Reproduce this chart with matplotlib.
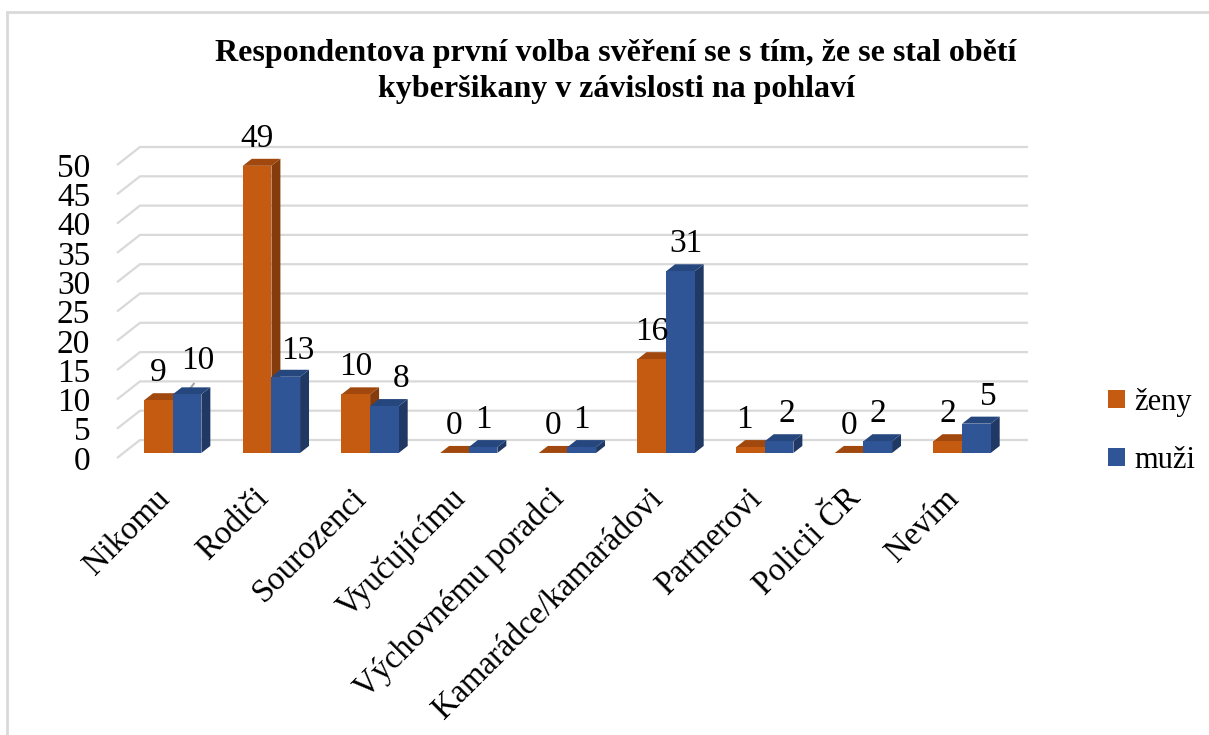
import matplotlib
matplotlib.use("Agg")
import matplotlib.pyplot as plt
from matplotlib.patches import Polygon, Patch, Rectangle

# ---------------- data ----------------
categories = ["Nikomu", "Rodiči", "Sourozenci", "Vyučujícímu", "Výchovnému poradci",
              "Kamarádce/kamarádovi", "Partnerovi", "Policii ČR", "Nevím"]
zeny = [9, 49, 10, 0, 0, 16, 1, 0, 2]
muzi = [10, 13, 8, 1, 1, 31, 2, 2, 5]
series_names = ["ženy", "muži"]
yticks = [0, 5, 10, 15, 20, 25, 30, 35, 40, 45, 50]
title_lines = ["Respondentova první volba svěření se s tím, že se stal obětí",
               "kyberšikany v závislosti na pohlaví"]

# ---------------- style ----------------
FONT = "Liberation Serif"
W_PX, H_PX = 1209, 735
front_cols = ["#C55A11", "#2F5597"]
top_cols = ["#A0480D", "#26467E"]
side_cols = ["#843C0C", "#203864"]
grid_col = "#D9D9D9"

fig = plt.figure(figsize=(W_PX / 100, H_PX / 100), dpi=100)

# axes: x = category index, y = value (front plane)
x0_px, x1_px = 117, 1005
y0_px = 458
ppu = 5.86
ytop = 54
ax = fig.add_axes([x0_px / W_PX, (H_PX - y0_px) / H_PX, (x1_px - x0_px) / W_PX, ytop * ppu / H_PX])
ax.set_xlim(-0.5, len(categories) - 0.5)
ax.set_ylim(0, ytop)
ax.axis("off")

cat_px = (x1_px - x0_px) / len(categories)
DX = 23 / cat_px      # full floor depth in x (data units)
DY = 18 / ppu         # full floor depth in y (data units)
f0 = 0.28             # depth fraction of bar front face
bd = 0.39             # bar depth fraction
W = 0.29              # bar width

# gridlines (side wall diagonals + back wall)
xl, xr = -0.5, len(categories) - 0.5
for v in yticks:
    ax.plot([xl, xl + DX, xr + DX], [v, v + DY, v + DY], color=grid_col, lw=1.6,
            clip_on=False, zorder=1, solid_capstyle="butt")
    ax.text(xl - 0.27, v - 0.6, str(v), ha="right", va="center", fontsize=24, family=FONT,
            color="black")

# bars
ddx, ddy = bd * DX, bd * DY
for i in range(len(categories)):
    for s, vals in enumerate([zeny, muzi]):
        v = vals[i]
        bx = i + (s - 1) * W + f0 * DX
        by = f0 * DY
        z = 3 + s
        front = Rectangle((bx, by), W, v, facecolor=front_cols[s], edgecolor="none", zorder=z)
        top = Polygon([(bx, by + v), (bx + W, by + v), (bx + W + ddx, by + v + ddy),
                       (bx + ddx, by + v + ddy)], closed=True, facecolor=top_cols[s],
                      edgecolor="none", zorder=z)
        side = Polygon([(bx + W, by), (bx + W + ddx, by + ddy), (bx + W + ddx, by + v + ddy),
                        (bx + W, by + v)], closed=True, facecolor=side_cols[s],
                       edgecolor="none", zorder=z)
        for p in (side, top, front):
            p.set_clip_on(False)
            ax.add_patch(p)

# data labels (pixel nudges for labels that Excel moved)
nudge = {(0, 1): (11, 6), (1, 1): (12, -1), (2, 1): (17, 0), (5, 1): (6, 0),
         (6, 0): (-6, 0), (6, 1): (8, 0), (8, 1): (12, 0)}
for i in range(len(categories)):
    for s, vals in enumerate([zeny, muzi]):
        v = vals[i]
        bx = i + (s - 1) * W + f0 * DX
        cx = bx + W / 2
        cy = f0 * DY + v
        ndx, ndy = nudge.get((i, s), (0, 0))
        ax.annotate(str(v), xy=(cx, cy), xytext=(ndx, 19 + ndy), textcoords="offset pixels",
                    ha="center", va="baseline", fontsize=24, family=FONT, zorder=10,
                    annotation_clip=False)
# leader line for moved label
ax.annotate("", xy=(0 + f0 * DX + W * 0.45, f0 * DY + muzi[0]), xytext=(10, 13),
            textcoords="offset pixels",
            arrowprops=dict(arrowstyle="-", color="#A6A6A6", lw=1.5), annotation_clip=False)

# category labels
for i, c in enumerate(categories):
    ax.text(i + f0 * DX + 0.03, -25 / ppu, c, rotation=45, ha="right", va="top",
            fontsize=23.5, family=FONT, rotation_mode="default")

# title
fig.text(616 / W_PX, 1 - 54 / H_PX, title_lines[0], ha="center", va="center",
         fontsize=23, fontweight="bold", family=FONT)
fig.text(616 / W_PX, 1 - 90 / H_PX, title_lines[1], ha="center", va="center",
         fontsize=23, fontweight="bold", family=FONT)

# legend
handles = [Patch(facecolor=front_cols[k], edgecolor="none") for k in range(2)]
leg = fig.legend(handles, series_names, loc="upper left",
                 bbox_to_anchor=(1108 / W_PX, 1 - 388 / H_PX), frameon=False,
                 prop={"family": FONT, "size": 22}, handlelength=0.55, handleheight=0.55,
                 handletextpad=0.3, labelspacing=0.95, borderaxespad=0, borderpad=0)

# chart-area border (top and left visible)
fig.add_artist(Rectangle((7 / W_PX, -0.1), 1.2, 1 - 12 / H_PX + 0.1,
                         transform=fig.transFigure, fill=False, edgecolor="#D9D9D9",
                         lw=2, clip_on=False))

fig.savefig("out.png", dpi=100)
